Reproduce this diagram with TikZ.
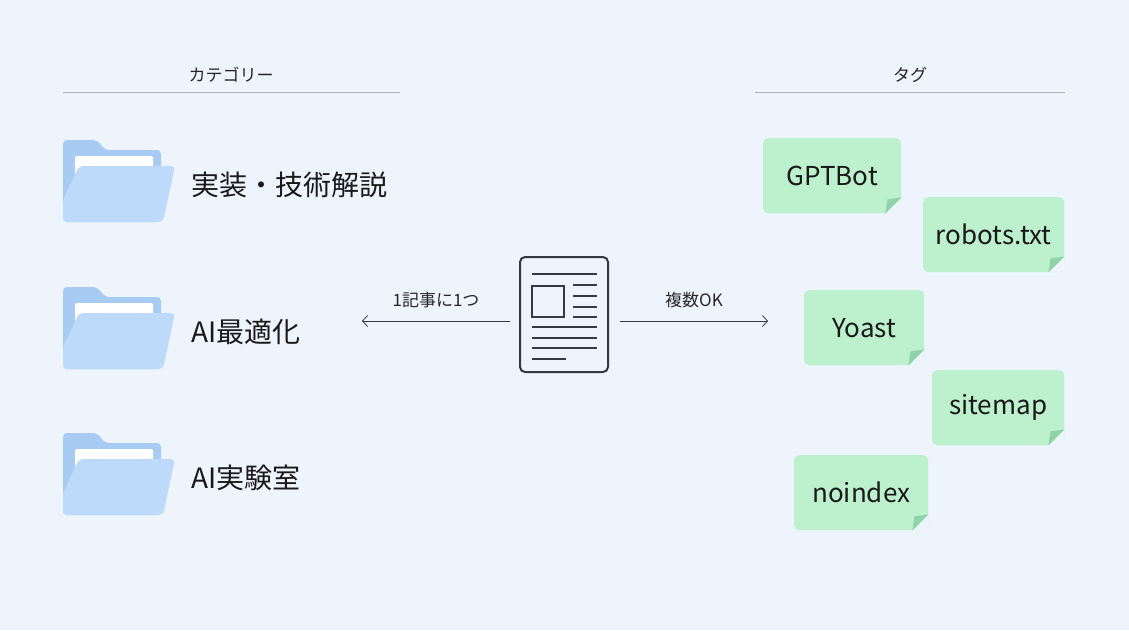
\documentclass[tikz,border=0pt]{standalone}
\usepackage{fontspec}
\setmainfont{Noto Sans CJK JP}
\usetikzlibrary{positioning, arrows.meta, calc}
\definecolor{bgc}{HTML}{EDF4FC}
\definecolor{tagc}{HTML}{BDF0CD}
\definecolor{foldc}{HTML}{8FD3A8}
\definecolor{backc}{HTML}{A8CBF3}
\definecolor{frontc}{HTML}{BEDAFA}
\definecolor{inkc}{HTML}{333A44}
\tikzset{
  head/.style={font=\fontsize{17}{19}\selectfont, text=black!85},
  rule/.style={draw=gray!60, line width=0.6pt},
  catlabel/.style={font=\fontsize{28}{32}\selectfont, text=black!90, anchor=west},
  tag/.style={fill=tagc, rounded corners=5pt, minimum height=75pt, font=\fontsize{26}{30}\selectfont, text=black!90, anchor=north west},
  doclines/.style={draw=inkc, line width=2pt},
  folder/.pic={
    \fill[backc, rounded corners=4pt] (0,0) -- (0,82) -- (98,82) -- (98,10) -- (42,10) -- (34,0) -- cycle;
    \fill[white, rounded corners=2pt] (12,16) rectangle (90,40);
    \fill[frontc, rounded corners=4pt] (16,26) -- (112,26) -- (100,82) -- (0,82) -- (0,60) -- cycle;
  }
}
\begin{document}
\begin{tikzpicture}[x=1pt, y=-1pt, >={Straight Barb[length=5pt, width=11pt]}]
\fill[bgc] (0,0) rectangle (1129,630);
\useasboundingbox (0,0) rectangle (1129,630);
% headers
\node[head] (cat) at (231,75) {カテゴリー};
\node[head] (tg) at (910,75) {タグ};
\draw[rule] (63,92) -- (400,92);
\draw[rule] (755,92) -- (1065,92);
% categories
\foreach \y/\name/\txt in {140/c1/実装・技術解説, 287/c2/AI最適化, 433/c3/AI実験室} {
  \pic at (63,\y) {folder};
  \node[catlabel] (\name) at (188,\y+45) {\txt};
}
% article
\draw[inkc, line width=2pt, rounded corners=5pt] (520,257) rectangle (608,372);
\node[draw=inkc, line width=2pt, minimum width=32pt, minimum height=31pt, inner sep=0pt] (img) at (548,301) {};
\draw[doclines] (532,274) -- (597,274);
\foreach \y in {285,296,307,317} \draw[doclines] (573,\y) -- (597,\y);
\foreach \y in {327,338,348} \draw[doclines] (532,\y) -- (597,\y);
\draw[doclines] (532,359) -- (566,359);
\coordinate (docl) at (510,321);
\coordinate (docr) at (620,321);
\coordinate (catend) at (362,321);
\coordinate (tagend) at (768,321);
\draw[->, draw=inkc, line width=0.8pt] (docl) -- node[above=9pt, head] {1記事に1つ} (catend);
\draw[->, draw=inkc, line width=0.8pt] (docr) -- node[above=9pt, head] {複数OK} (tagend);
% tags
\foreach \x/\y/\w/\name/\txt in {763/138/138/t1/GPTBot, 923/197/141/t2/robots.txt, 804/290/120/t3/Yoast, 932/370/132/t4/sitemap, 794/455/134/t5/noindex} {
  \node[tag, minimum width=\w pt] (\name) at (\x,\y) {\txt};
  \fill[bgc] ($(\name.south east)+(-16,0)$) -- (\name.south east) -- ($(\name.south east)+(0,-16)$) -- cycle;
  \fill[foldc] ($(\name.south east)+(-16,0)$) -- ($(\name.south east)+(-14,-14)$) -- ($(\name.south east)+(0,-16)$) -- cycle;
}
\end{tikzpicture}
\end{document}
